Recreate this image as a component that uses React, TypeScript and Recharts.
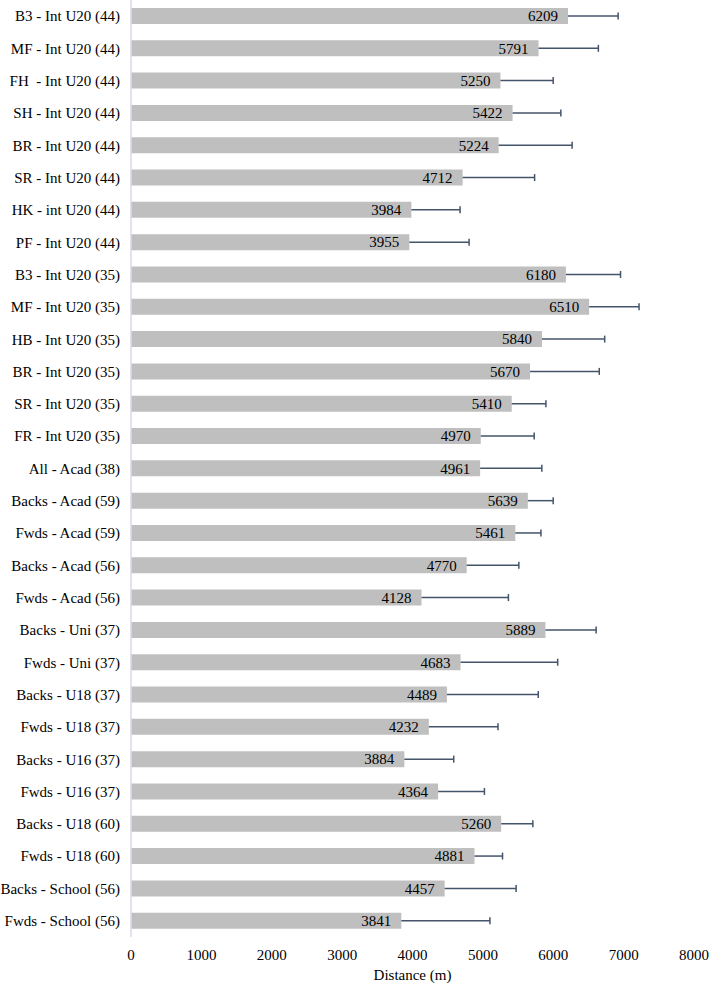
import { BarChart, Bar, XAxis, YAxis, LabelList } from 'recharts'

const CATEGORIES = [
  'B3 - Int U20 (44)',
  'MF - Int U20 (44)',
  'FH  - Int U20 (44)',
  'SH - Int U20 (44)',
  'BR - Int U20 (44)',
  'SR - Int U20 (44)',
  'HK - int U20 (44)',
  'PF - Int U20 (44)',
  'B3 - Int U20 (35)',
  'MF - Int U20 (35)',
  'HB - Int U20 (35)',
  'BR - Int U20 (35)',
  'SR - Int U20 (35)',
  'FR - Int U20 (35)',
  'All - Acad (38)',
  'Backs - Acad (59)',
  'Fwds - Acad (59)',
  'Backs - Acad (56)',
  'Fwds - Acad (56)',
  'Backs - Uni (37)',
  'Fwds - Uni (37)',
  'Backs - U18 (37)',
  'Fwds - U18 (37)',
  'Backs - U16 (37)',
  'Fwds - U16 (37)',
  'Backs - U18 (60)',
  'Fwds - U18 (60)',
  'Backs - School (56)',
  'Fwds - School (56)',
]

const MEANS = [
  6209, 5791, 5250, 5422, 5224, 4712, 3984, 3955,
  6180, 6510, 5840, 5670, 5410, 4970, 4961,
  5639, 5461, 4770, 4128, 5889, 4683, 4489, 4232,
  3884, 4364, 5260, 4881, 4457, 3841,
]

// one-sided SD (drawn to the right of each bar)
const ERRORS = [
  713, 850, 749, 686, 1044, 1023, 692, 849,
  776, 709, 891, 984, 486, 759, 877,
  360, 364, 741, 1235, 720, 1380, 1298, 983,
  702, 658, 450, 398, 1015, 1259,
]

const X_TICKS = [0, 1000, 2000, 3000, 4000, 5000, 6000, 7000, 8000]

const data = CATEGORIES.map((name, i) => ({ name, mean: MEANS[i], err: ERRORS[i] }))

const FONT = "'Liberation Serif', 'Times New Roman', serif"

function ErrorShape(props: any) {
  const { x, y, width, height } = props
  const cy = y + height / 2
  return (
    <g stroke="#44546A" strokeWidth={1.5}>
      <line x1={x} y1={cy} x2={x + width} y2={cy} />
      <line x1={x + width} y1={cy - 3.5} x2={x + width} y2={cy + 3.5} />
    </g>
  )
}

function CategoryTick({ x, y, payload }: any) {
  return (
    <text x={x} y={y} dy="0.35em" textAnchor="end" fontSize={15} fill="#000" style={{ whiteSpace: 'pre', fontFamily: FONT }}>
      {payload.value}
    </text>
  )
}

export default function App() {
  return (
    <div style={{ width: 709, height: 984, background: '#fff', fontFamily: FONT }}>
      <style>{'body{margin:0}'}</style>
      <BarChart
        width={709}
        height={984}
        layout="vertical"
        data={data}
        margin={{ top: 0, right: 15, left: 0, bottom: 0 }}
        barSize={16}
      >
        <XAxis
          type="number"
          domain={[0, 8000]}
          ticks={X_TICKS}
          axisLine={false}
          tickLine={false}
          tickMargin={6}
          height={47}
          tick={{ fontFamily: FONT, fontSize: 15, fill: '#000' }}
          label={{ value: 'Distance (m)', position: 'insideBottom', offset: 4, fontFamily: FONT, fontSize: 15, fill: '#000' }}
        />
        <YAxis
          type="category"
          dataKey="name"
          width={131}
          interval={0}
          axisLine={{ stroke: '#D6DCE5', strokeWidth: 1.5 }}
          tickLine={false}
          tickMargin={5}
          tick={<CategoryTick />}
        />
        <Bar dataKey="mean" stackId="a" fill="#BFBFBF" isAnimationActive={false}>
          <LabelList dataKey="mean" position="insideRight" offset={10} fill="#000" fontFamily={FONT} fontSize={15} />
        </Bar>
        <Bar dataKey="err" stackId="a" fill="none" shape={<ErrorShape />} isAnimationActive={false} />
      </BarChart>
    </div>
  )
}
